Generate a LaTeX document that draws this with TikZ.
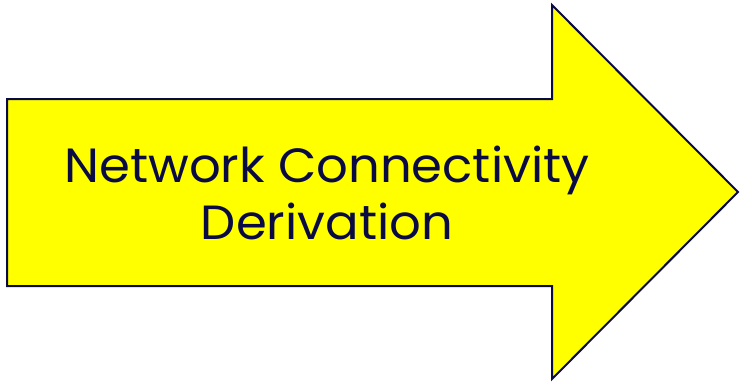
\documentclass[tikz,border=0pt]{standalone}
\usepackage{fontspec}
\setmainfont{Poppins}[FakeStretch=1.035]
\usepackage{tikz}
\usetikzlibrary{positioning}
\definecolor{navy}{HTML}{0A0A45}
\definecolor{brightyellow}{HTML}{FFFF00}

\begin{document}
\begin{tikzpicture}[
  x=1pt, y=-1pt,
  bigarrow/.style={draw=navy, fill=brightyellow, line width=2pt, line join=miter},
  caption/.style={text=navy, align=center, font=\fontsize{48}{57}\selectfont}
]

\useasboundingbox (0,0) rectangle (743,381);

% arrow outline: shaft then head
\draw[bigarrow] (7,99) -- (552,99) -- (552,5) -- (738,192)
  -- (552,379) -- (552,286) -- (7,286) -- cycle;

\node[caption] (title) at (327,193) {Network Connectivity\\Derivation};

\end{tikzpicture}
\end{document}
